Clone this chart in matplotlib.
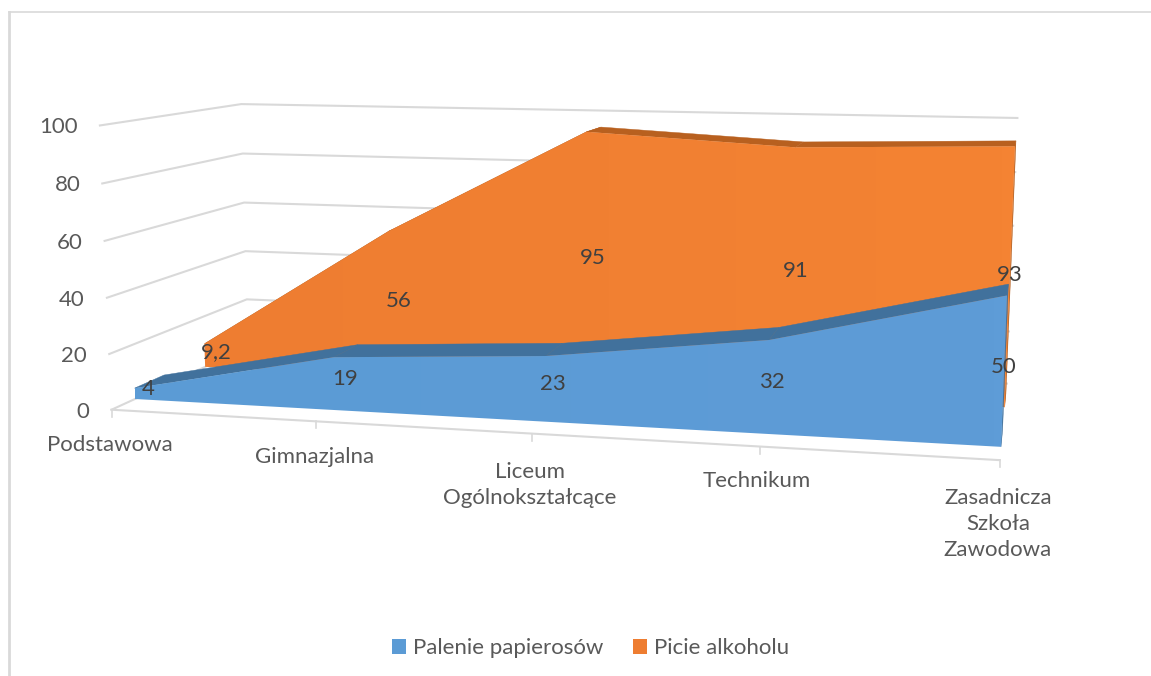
import numpy as np
import matplotlib
matplotlib.use('Agg')
import matplotlib.pyplot as plt
from matplotlib.patches import Patch, Polygon

#datos
kategorie = ['Podstawowa', 'Gimnazjalna', 'Liceum\nOgólnokształcące', 'Technikum', 'Zasadnicza\nSzkoła\nZawodowa']
palenie = [4, 19, 23, 32, 50]
alkohol = [9.2, 56, 95, 91, 93]
etyk_palenie = ['4', '19', '23', '32', '50']
etyk_alkohol = ['9,2', '56', '95', '91', '93']
wartosci_osi = [0, 20, 40, 60, 80, 100]

W, H = 1151, 676
kol_szary = '#D9D9D9'
kol_opis = '#595959'
kol_etyk = '#404040'
ROZM = 16

#kamara: (kategoria, wartosc, glebokosc) -> pixel, medidos en la imagen
kalib = [
    (0, 0, 0, 111, 408), (0, 20, 0, 109, 353), (0, 80, 0, 103, 184), (0, 100, 0, 100, 126),
    (0, 20, 1, 247, 300), (0, 100, 1, 240, 105), (4, 0, 0, 1000, 462), (4, 100, 1, 1018, 117),
    (0, 0, .15, 135, 400), (0, 4, .35, 165, 376), (4, 0, .15, 1001, 447), (4, 50, .15, 1007, 295),
    (4, 50, .35, 1007, 285), (0, 9.2, .65, 205.7, 342), (2, 95, .65, 587, 132), (2, 95, .85, 600, 127),
    (3, 91, .65, 797, 147), (4, 93, .65, 1015, 145), (4, 93, .85, 1016, 141), (4, 0, .65, 1005, 407),
    (1, 19, .15, 332, 358), (1, 19, .35, 357, 345), (3, 32, .15, 777, 338),
    (1, 0, 0, 315, 421), (2, 0, 0, 531, 433),
]
kalib = kalib + 4*[(4, 0, .15, 1001, 447), (4, 50, .15, 1007, 295), (4, 50, .35, 1007, 285)]

A = []
for c, v, d, px, py in kalib:
    X = [c/4, v/100, d, 1]
    A.append(X + [0, 0, 0, 0] + [-px/1000*q for q in X])
    A.append([0, 0, 0, 0] + X + [-py/1000*q for q in X])
P = np.linalg.svd(np.array(A))[2][-1].reshape(3, 4)


def proj(c, v, d):
    h = P @ np.array([c/4, v/100, d, 1])
    return h[0]/h[2]*1000, h[1]/h[2]*1000


fig = plt.figure(figsize=(W/100, H/100), dpi=100)
plt.rcParams['font.family'] = ['Lato', 'DejaVu Sans']
ax = fig.add_axes([0, 0, 1, 1])

#marco
ax.plot([9, 9], [H, 12], c=kol_szary, lw=2)
ax.plot([9, W], [12, 12], c=kol_szary, lw=1.2)

#lineas de la pared
for v in wartosci_osi:
    pts = [proj(0, v, 0), proj(0, v, 1), proj(4, v, 1)]
    ax.plot(*zip(*pts), c=kol_szary, lw=1.5, zorder=1)
    x, y = proj(0, v, 0)
    ax.text(x-22, y+2, str(v), ha='right', va='center', color=kol_opis, fontsize=ROZM)
ax.plot(*zip(proj(0, 0, 0), proj(4, 0, 0)), c=kol_szary, lw=1.5, zorder=1)
for i in range(5):
    x, y = proj(i, 0, 0)
    ax.plot([x, x], [y, y+7], c=kol_szary, lw=1.2, zorder=1)

#etiquetas de categorias
pos_kat = [(110, 445), (315, 457), (530, 485), (757, 481), (998, 524)]
for k, (x, y) in zip(kategorie, pos_kat):
    ax.text(x, y, k, ha='center', va='center', color=kol_opis, fontsize=ROZM, linespacing=1.35)


def area(vals, d0, d1, kol0, kol1, kol_gora, z):
    n = len(vals)
    for i in range(n-1):
        gora = [proj(i, vals[i], d0), proj(i+1, vals[i+1], d0), proj(i+1, vals[i+1], d1), proj(i, vals[i], d1)]
        ax.add_patch(Polygon(gora, fc=kol_gora, ec=kol_gora, lw=0.3, zorder=z))
    bok = [proj(n-1, 0, d0), proj(n-1, vals[-1], d0), proj(n-1, vals[-1], d1), proj(n-1, 0, d1)]
    ax.add_patch(Polygon(bok, fc=kol_gora, ec=kol_gora, lw=0.3, zorder=z))
    przod = [proj(i, vals[i], d0) for i in range(n)] + [proj(n-1, 0, d0), proj(0, 0, d0)]
    pat = Polygon(przod, fc='none', ec='none', zorder=z+1)
    ax.add_patch(pat)
    #degradado suave de izquierda a derecha
    xs = [p[0] for p in przod]
    ys = [p[1] for p in przod]
    t = np.linspace(0, 1, 64)[None, :, None]
    grad = (1-t)*np.array(matplotlib.colors.to_rgb(kol0)) + t*np.array(matplotlib.colors.to_rgb(kol1))
    im = ax.imshow(grad, extent=[min(xs), max(xs), max(ys), min(ys)], aspect='auto', zorder=z+1)
    im.set_clip_path(pat)


area(alkohol, .65, .85, '#EE7D31', '#F48333', '#B8601F', 2)
area(palenie, .15, .35, '#5B9BD5', '#5E9CD7', '#41719C', 4)

ax.set_xlim(0, W)
ax.set_ylim(H, 0)
ax.axis('off')

#etiquetas de datos
for i in range(5):
    x, y = proj(i, alkohol[i]/2, .75)
    ax.text(x-1, y+2, etyk_alkohol[i], ha='center', va='center', color=kol_etyk, fontsize=ROZM, zorder=8)
    x, y = proj(i, palenie[i]/2, .25)
    ax.text(x-1, y+2, etyk_palenie[i], ha='center', va='center', color=kol_etyk, fontsize=ROZM, zorder=8)

uchwyty = [Patch(fc='#5B9BD5', label='Palenie papierosów'), Patch(fc='#EE7D31', label='Picie alkoholu')]
ax.legend(handles=uchwyty, loc='center', bbox_to_anchor=(590.5/W, 1-648/H), ncol=2, frameon=False,
          fontsize=ROZM, labelcolor=kol_opis, handlelength=0.65, handleheight=0.65, handletextpad=0.3, columnspacing=1.33)

fig.savefig('out.png', dpi=100)
